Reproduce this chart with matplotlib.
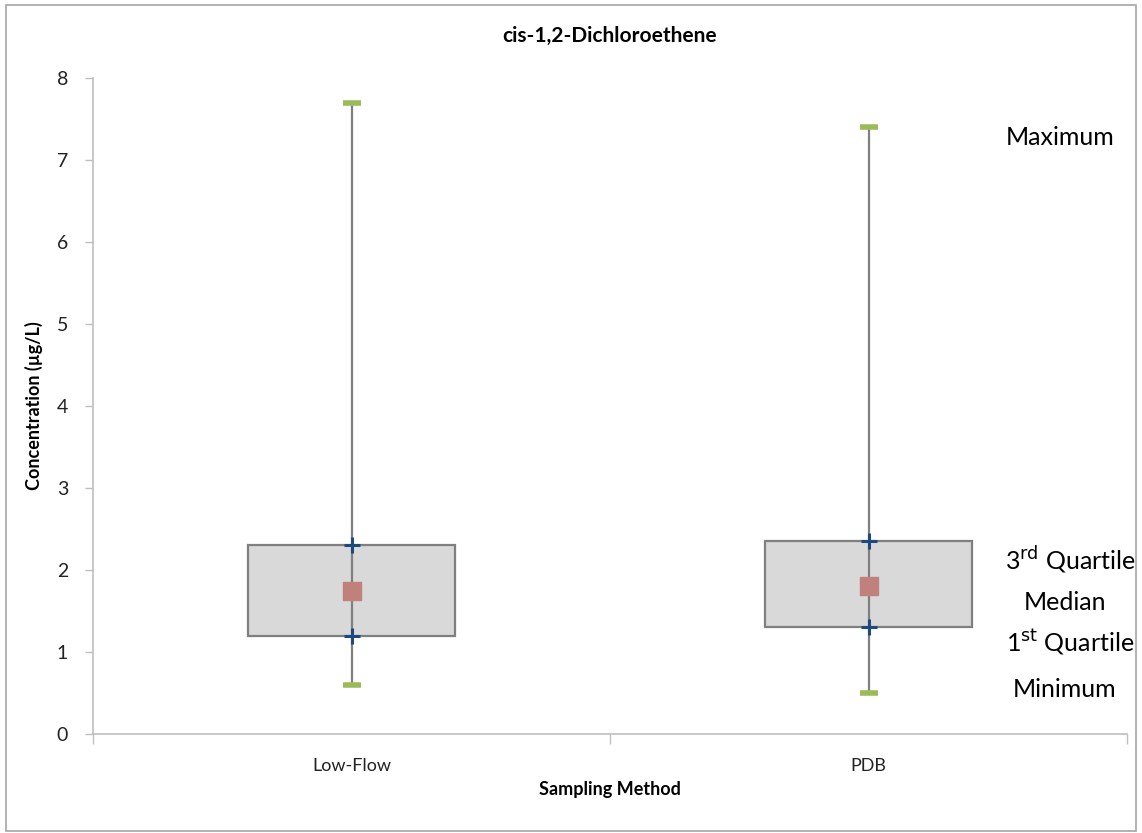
import matplotlib
matplotlib.use("Agg")
import matplotlib.pyplot as plt
from matplotlib.patches import Rectangle

plt.rcParams['font.family'] = ['Lato', 'DejaVu Sans']

# box summary per sampling method
methods = ['Low-Flow', 'PDB']
minimum = [0.6, 0.5]
q1 = [1.2, 1.3]
median = [1.75, 1.8]
q3 = [2.3, 2.35]
maximum = [7.7, 7.4]

yticks = [0, 1, 2, 3, 4, 5, 6, 7, 8]

fig = plt.figure(figsize=(11.42, 8.33), dpi=100)
ax = fig.add_axes([93/1142, (833-734)/833, (1127-93)/1142, (734-78)/833])

pos = [0.5, 1.5]
grey = '#7f7f7f'

ax.bar(pos, [b - a for a, b in zip(q1, q3)], bottom=q1, width=0.4,
       color='#d9d9d9', edgecolor=grey, linewidth=1.6, zorder=2)
ax.vlines(pos, minimum, maximum, color=grey, linewidth=1.6, zorder=3)
ax.scatter(pos, maximum, marker='_', s=180, color='#9bbb59', linewidths=4, zorder=4)
ax.scatter(pos, minimum, marker='_', s=180, color='#9bbb59', linewidths=4, zorder=4)
ax.scatter(pos, q1, marker='+', s=120, color='#1f497d', linewidths=2.2, zorder=4)
ax.scatter(pos, q3, marker='+', s=120, color='#1f497d', linewidths=2.2, zorder=4)
ax.scatter(pos, median, marker='s', s=150, color='#c0807c', zorder=5)

ax.set_xlim(0, 2)
ax.set_ylim(0, 8)
ax.set_yticks(yticks)
ax.set_xticks([0, 1, 2])
ax.set_xticklabels([])
ax.set_xticks(pos, minor=True)
ax.set_xticklabels(methods, minor=True)
ax.tick_params(axis='x', which='minor', length=0, pad=17, labelsize=13, colors='#222222')
ax.tick_params(axis='x', which='major', length=7, color='#bfbfbf', width=1)
ax.tick_params(axis='y', length=6, width=1, labelsize=14, pad=12, colors='#222222')
ax.tick_params(axis='y', color='#bfbfbf')

for s in ['top', 'right']:
    ax.spines[s].set_visible(False)
for s in ['left', 'bottom']:
    ax.spines[s].set_color('#bfbfbf')
    ax.spines[s].set_linewidth(1.2)

ax.set_title('cis-1,2-Dichloroethene', fontsize=15, fontweight='bold', pad=26)
ax.set_ylabel('Concentration (µg/L)', fontsize=13, fontweight='bold', labelpad=10)
ax.set_xlabel('Sampling Method', fontsize=13, fontweight='bold', labelpad=5)

# key on the right side
fs = 18
key = [('Maximum', 0.935, 0.91),
       (r'3$^{\mathrm{rd}}$ Quartile', 0.945, 0.265),
       ('Median', 0.94, 0.2),
       (r'1$^{\mathrm{st}}$ Quartile', 0.945, 0.14),
       ('Minimum', 0.94, 0.068)]
for txt, kx, ky in key:
    ax.text(kx, ky, txt, transform=ax.transAxes, ha='center', va='center', fontsize=fs)

fig.patches.append(Rectangle((6/1142, 2/833), 1130/1142, 826/833, transform=fig.transFigure,
                             fill=False, edgecolor='#a6a6a6', linewidth=1.2))

plt.savefig('out.png', dpi=100)
